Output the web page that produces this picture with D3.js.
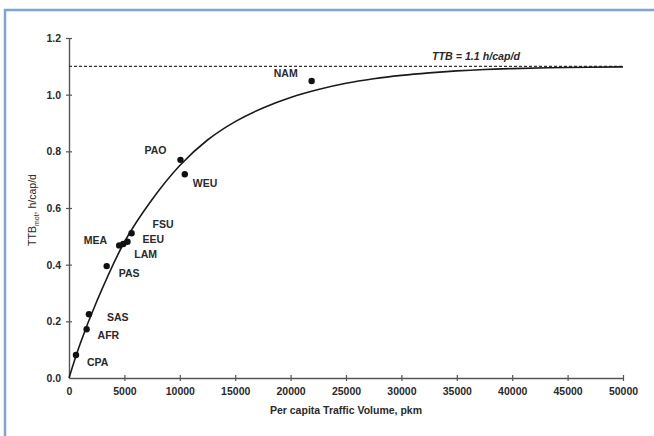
<!DOCTYPE html>
<html>
<head>
<meta charset="utf-8">
<script src="https://cdn.jsdelivr.net/npm/d3@7"></script>
<style>
  html, body { margin: 0; padding: 0; background: #fff; }
  svg { display: block; }
  text { font-family: "Liberation Sans", Arial, sans-serif; fill: #2a2a2a; }
</style>
</head>
<body>
<script>
// World regions: per-capita traffic volume (pkm) vs. travel time budget (h/cap/d)
const regions = ["CPA", "AFR", "SAS", "PAS", "MEA", "LAM", "EEU", "FSU", "PAO", "WEU", "NAM"];
const volume  = [630, 1590, 1800, 3400, 4530, 4900, 5280, 5650, 10060, 10450, 21900];
const ttb     = [0.081, 0.172, 0.225, 0.395, 0.468, 0.473, 0.481, 0.511, 0.770, 0.719, 1.048];

// Saturation curve approaching the fixed budget
const curveX = [0, 1000, 2500, 5000, 7500, 10000, 12500, 15000, 17500, 20000, 22500, 25000, 27500, 30000, 32500, 35000, 37500, 40000, 45000, 50000];
const curveY = [0, 0.12, 0.27, 0.48, 0.63, 0.75, 0.84, 0.905, 0.953, 0.99, 1.018, 1.04, 1.056, 1.068, 1.077, 1.084, 1.089, 1.092, 1.096, 1.098];
const budget = 1.1;

const xTicks = [0, 5000, 10000, 15000, 20000, 25000, 30000, 35000, 40000, 45000, 50000];
const yTicks = [0, 0.2, 0.4, 0.6, 0.8, 1.0, 1.2];

const W = 654, H = 436;
const svg = d3.select("body").append("svg").attr("width", W).attr("height", H);

// outer frame (left and top edges visible)
svg.append("rect")
  .attr("x", 5).attr("y", 10).attr("width", 700).attr("height", 500)
  .attr("fill", "none").attr("stroke", "#7ea3dc").attr("stroke-width", 2.5);

const x = d3.scaleLinear().domain([0, 50000]).range([69, 623]);
const y = d3.scaleLinear().domain([0, 1.2]).range([378, 38]);

const axisColor = "#555";

// x axis
const gx = svg.append("g").attr("transform", `translate(0,${y(0)})`)
  .call(d3.axisBottom(x).tickValues(xTicks).tickFormat(d3.format("d")).tickSize(0).tickPadding(10));
gx.select(".domain").attr("stroke", axisColor).attr("stroke-width", 1.4);
gx.selectAll(".tick text").attr("font-size", 10.5).attr("font-weight", "bold").attr("fill", "#3a3a3a").attr("font-family", "Liberation Sans, Arial, sans-serif");
gx.selectAll(".tick").filter(d => d > 0).append("line")
  .attr("y1", -3).attr("y2", 3).attr("stroke", axisColor).attr("stroke-width", 1.2);

// y axis
const gy = svg.append("g").attr("transform", `translate(${x(0)},0)`)
  .call(d3.axisLeft(y).tickValues(yTicks).tickFormat(d3.format(".1f")).tickSize(0).tickPadding(8));
gy.select(".domain").attr("stroke", axisColor).attr("stroke-width", 1.4);
gy.selectAll(".tick text").attr("font-size", 10.5).attr("font-weight", "bold").attr("fill", "#3a3a3a").attr("font-family", "Liberation Sans, Arial, sans-serif");
gy.selectAll(".tick").filter(d => d > 0).append("line")
  .attr("x1", -3).attr("x2", 3).attr("stroke", axisColor).attr("stroke-width", 1.2);

// axis titles
svg.append("text")
  .attr("x", (x(0) + x(50000)) / 2).attr("y", 414)
  .attr("text-anchor", "middle").attr("font-size", 10.5).attr("font-weight", "bold")
  .text("Per capita Traffic Volume, pkm");

const yt = svg.append("text")
  .attr("transform", `translate(36,${y(0.6) + 2}) rotate(-90)`)
  .attr("text-anchor", "middle").attr("font-size", 10.5);
yt.append("tspan").text("TTB");
yt.append("tspan").attr("font-size", 7).attr("dy", 3).text("mot");
yt.append("tspan").attr("dy", -3).text(", h/cap/d");

// budget line
svg.append("line")
  .attr("x1", x(0)).attr("x2", x(50000)).attr("y1", y(budget)).attr("y2", y(budget))
  .attr("stroke", "#333").attr("stroke-width", 1.2).attr("stroke-dasharray", "3,2");
svg.append("text")
  .attr("x", 432).attr("y", y(budget) - 6)
  .attr("text-anchor", "start").attr("font-size", 10).attr("font-style", "italic").attr("font-weight", "bold")
  .attr("textLength", 88).attr("lengthAdjust", "spacingAndGlyphs")
  .text("TTB = 1.1 h/cap/d");

// saturation curve
const line = d3.line().x(d => x(d[0])).y(d => y(d[1])).curve(d3.curveCatmullRom.alpha(0.5));
svg.append("path")
  .datum(curveX.map((v, i) => [v, curveY[i]]))
  .attr("d", line).attr("fill", "none").attr("stroke", "#1a1a1a").attr("stroke-width", 1.6);

// region points
const pts = regions.map((r, i) => ({ r, v: volume[i], t: ttb[i] }));
svg.append("g").selectAll("circle").data(pts).join("circle")
  .attr("cx", d => x(d.v)).attr("cy", d => y(d.t)).attr("r", 3.2).attr("fill", "#111");

// label placement around each point
const labelPos = {
  CPA: [11, 7, "start"], AFR: [11, 6, "start"], SAS: [18, 3, "start"], PAS: [12, 7, "start"],
  MEA: [-12, -5, "end"], LAM: [11, 10, "start"], EEU: [15, -2, "start"], FSU: [21, -9, "start"],
  PAO: [-14, -10, "end"], WEU: [8, 9, "start"], NAM: [-14, -8, "end"]
};
svg.append("g").selectAll("text").data(pts).join("text")
  .attr("x", d => x(d.v) + labelPos[d.r][0])
  .attr("y", d => y(d.t) + labelPos[d.r][1])
  .attr("dy", "0.35em")
  .attr("text-anchor", d => labelPos[d.r][2])
  .attr("font-size", 10.5).attr("font-weight", "bold")
  .text(d => d.r);
</script>
</body>
</html>
